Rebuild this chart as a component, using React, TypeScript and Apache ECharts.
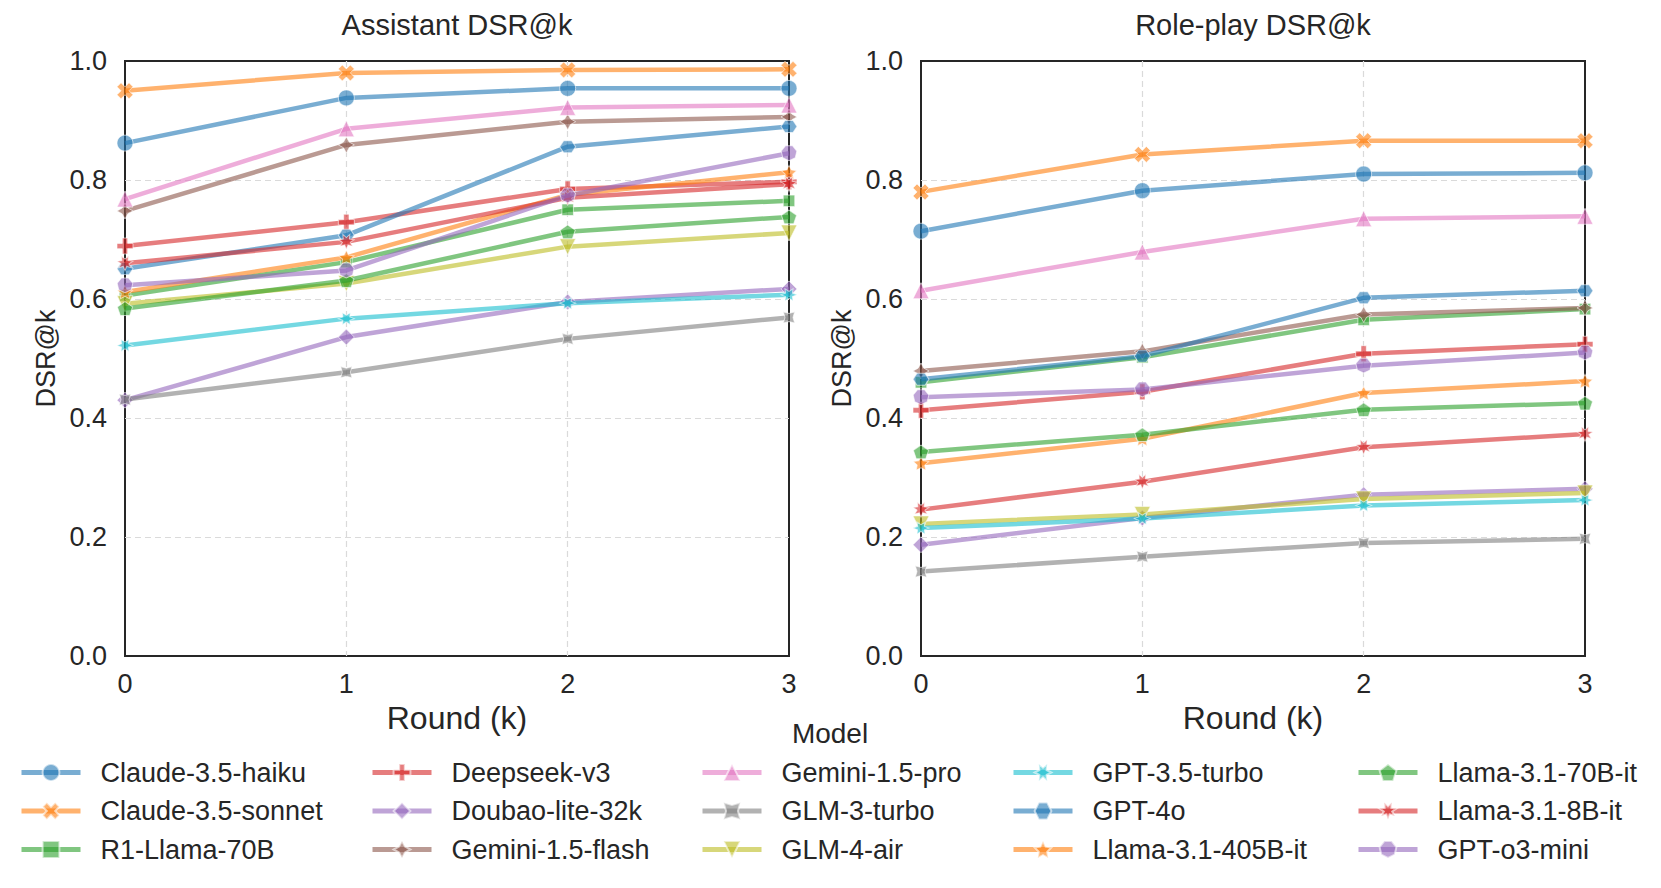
import React, { useEffect, useRef } from "react";
import * as echarts from "echarts";

// ---------- data ----------
const ROUNDS = [0, 1, 2, 3];
const Y_TICKS = [0, 0.2, 0.4, 0.6, 0.8, 1.0];
const PANEL_TITLES = ["Assistant DSR@k", "Role-play DSR@k"];
const X_NAME = "Round (k)";
const Y_NAME = "DSR@k";
const LEGEND_TITLE = "Model";

const MODELS = [
  "Claude-3.5-haiku",
  "Claude-3.5-sonnet",
  "R1-Llama-70B",
  "Deepseek-v3",
  "Doubao-lite-32k",
  "Gemini-1.5-flash",
  "Gemini-1.5-pro",
  "GLM-3-turbo",
  "GLM-4-air",
  "GPT-3.5-turbo",
  "GPT-4o",
  "Llama-3.1-405B-it",
  "Llama-3.1-70B-it",
  "Llama-3.1-8B-it",
  "GPT-o3-mini",
];

// Assistant DSR@k
const A_CLAUDE_HAIKU = [0.862, 0.938, 0.954, 0.954];
const A_CLAUDE_SONNET = [0.95, 0.98, 0.985, 0.986];
const A_R1_LLAMA_70B = [0.606, 0.662, 0.75, 0.765];
const A_DEEPSEEK_V3 = [0.689, 0.729, 0.785, 0.797];
const A_DOUBAO = [0.43, 0.536, 0.595, 0.617];
const A_GEMINI_FLASH = [0.748, 0.859, 0.898, 0.906];
const A_GEMINI_PRO = [0.768, 0.886, 0.922, 0.926];
const A_GLM3 = [0.431, 0.477, 0.533, 0.569];
const A_GLM4_AIR = [0.592, 0.626, 0.688, 0.711];
const A_GPT35 = [0.522, 0.567, 0.593, 0.607];
const A_GPT4O = [0.651, 0.707, 0.856, 0.89];
const A_LLAMA_405B = [0.612, 0.67, 0.775, 0.813];
const A_LLAMA_70B = [0.584, 0.631, 0.713, 0.738];
const A_LLAMA_8B = [0.66, 0.696, 0.77, 0.793];
const A_O3_MINI = [0.623, 0.648, 0.774, 0.845];

// Role-play DSR@k
const R_CLAUDE_HAIKU = [0.714, 0.782, 0.81, 0.812];
const R_CLAUDE_SONNET = [0.78, 0.843, 0.866, 0.866];
const R_R1_LLAMA_70B = [0.46, 0.502, 0.565, 0.583];
const R_DEEPSEEK_V3 = [0.413, 0.444, 0.508, 0.524];
const R_DOUBAO = [0.187, 0.232, 0.271, 0.281];
const R_GEMINI_FLASH = [0.479, 0.512, 0.574, 0.585];
const R_GEMINI_PRO = [0.614, 0.679, 0.735, 0.739];
const R_GLM3 = [0.142, 0.167, 0.19, 0.197];
const R_GLM4_AIR = [0.222, 0.238, 0.264, 0.274];
const R_GPT35 = [0.215, 0.231, 0.253, 0.262];
const R_GPT4O = [0.465, 0.504, 0.602, 0.614];
const R_LLAMA_405B = [0.324, 0.365, 0.442, 0.462];
const R_LLAMA_70B = [0.343, 0.372, 0.414, 0.425];
const R_LLAMA_8B = [0.246, 0.293, 0.351, 0.373];
const R_O3_MINI = [0.435, 0.448, 0.488, 0.51];

const ASSISTANT = [
  A_CLAUDE_HAIKU, A_CLAUDE_SONNET, A_R1_LLAMA_70B, A_DEEPSEEK_V3, A_DOUBAO,
  A_GEMINI_FLASH, A_GEMINI_PRO, A_GLM3, A_GLM4_AIR, A_GPT35, A_GPT4O,
  A_LLAMA_405B, A_LLAMA_70B, A_LLAMA_8B, A_O3_MINI,
];
const ROLEPLAY = [
  R_CLAUDE_HAIKU, R_CLAUDE_SONNET, R_R1_LLAMA_70B, R_DEEPSEEK_V3, R_DOUBAO,
  R_GEMINI_FLASH, R_GEMINI_PRO, R_GLM3, R_GLM4_AIR, R_GPT35, R_GPT4O,
  R_LLAMA_405B, R_LLAMA_70B, R_LLAMA_8B, R_O3_MINI,
];

// ---------- styles ----------
const COLORS = [
  "#1f77b4", "#ff7f0e", "#2ca02c", "#d62728", "#9467bd",
  "#8c564b", "#e377c2", "#7f7f7f", "#bcbd22", "#17becf",
  "#1f77b4", "#ff7f0e", "#2ca02c", "#d62728", "#9467bd",
];
const FONT = "'Liberation Sans', Arial, Helvetica, sans-serif";
const TEXT_COLOR = "#262626";
const MS = 16; // marker base size

function pathFromPts(pts: number[][]): string {
  return (
    "path://" +
    pts
      .map((p, i) => `${i === 0 ? "M" : "L"}${(p[0] * 100 + 50).toFixed(2)} ${(-p[1] * 100 + 50).toFixed(2)}`)
      .join(" ") +
    " Z"
  );
}
function bboxSize(pts: number[][]): number[] {
  const xs = pts.map((p) => p[0]);
  const ys = pts.map((p) => p[1]);
  return [(Math.max(...xs) - Math.min(...xs)) * MS, (Math.max(...ys) - Math.min(...ys)) * MS];
}
function regularPts(n: number, inner: number | null, angleDeg: number): number[][] {
  const total = inner === null ? n : 2 * n;
  const pts: number[][] = [];
  for (let k = 0; k < total; k++) {
    const th = Math.PI / 2 + (angleDeg * Math.PI) / 180 + (k * 2 * Math.PI) / total;
    const r = inner === null ? 0.5 : k % 2 === 0 ? 0.5 : 0.5 * inner;
    pts.push([r * Math.cos(th), r * Math.sin(th)]);
  }
  return pts;
}
function mk(pts: number[][]) {
  return { symbol: pathFromPts(pts), size: bboxSize(pts) };
}
const X_PTS = [[-1, -2], [0, -1], [1, -2], [2, -1], [1, 0], [2, 1], [1, 2], [0, 1], [-1, 2], [-2, 1], [-1, 0], [-2, -1]].map((p) => [p[0] / 4, p[1] / 4]);
const P_PTS = [[-1, -3], [1, -3], [1, -1], [3, -1], [3, 1], [1, 1], [1, 3], [-1, 3], [-1, 1], [-3, 1], [-3, -1], [-1, -1]].map((p) => [p[0] / 6, p[1] / 6]);
const V_PTS = [[0, -0.5], [-0.5, 0.5], [0.5, 0.5]];

const MARKERS: { symbol: string; size: number | number[] }[] = [
  { symbol: "circle", size: MS },
  mk(X_PTS),
  { symbol: "rect", size: MS * 0.72 },
  mk(P_PTS),
  mk(regularPts(4, null, 0)),
  mk(regularPts(4, 0.5, 0)),
  { symbol: "triangle", size: MS },
  mk(regularPts(4, 0.5, 45)),
  mk(V_PTS),
  mk(regularPts(6, 0.5, 30)),
  mk(regularPts(6, null, 30)),
  mk(regularPts(5, 0.5, 0)),
  mk(regularPts(5, null, 0)),
  mk(regularPts(7, 0.5, 360 / 7 / 2)),
  mk(regularPts(7, null, 360 / 7 / 2)),
];

const LEGEND_COLS = [[0, 1, 2], [3, 4, 5], [6, 7, 8], [9, 10, 11], [12, 13, 14]];
const LEGEND_LEFT = [19, 370, 700, 1011, 1356];

const GRID_LEFT = [125, 921];
const GRID_TOP = 61;
const GRID_W = 664;
const GRID_H = 595;

export default function App() {
  const ref = useRef<HTMLDivElement>(null);

  useEffect(() => {
    if (!ref.current) return;
    const chart = echarts.init(ref.current, null, { renderer: "svg" });

    const grids = GRID_LEFT.map((left) => ({
      left,
      top: GRID_TOP,
      width: GRID_W,
      height: GRID_H,
      show: true,
      borderColor: TEXT_COLOR,
      borderWidth: 2,
      backgroundColor: "transparent",
      containLabel: false,
    }));

    const splitLine = {
      show: true,
      showMinLine: false,
      showMaxLine: false,
      lineStyle: { color: "#dadada", width: 1.2, type: [6, 4] },
    };

    const xAxes = GRID_LEFT.map((_, p) => ({
      type: "value",
      gridIndex: p,
      min: ROUNDS[0],
      max: ROUNDS[ROUNDS.length - 1],
      interval: 1,
      axisLine: { show: false },
      axisTick: { show: false },
      axisLabel: { fontSize: 27, color: TEXT_COLOR, fontFamily: FONT, margin: 14 },
      splitLine,
      name: X_NAME,
      nameLocation: "middle",
      nameGap: 45,
      nameTextStyle: { fontSize: 32, color: TEXT_COLOR, fontFamily: FONT },
    }));

    const yAxes = GRID_LEFT.map((_, p) => ({
      type: "value",
      gridIndex: p,
      min: Y_TICKS[0],
      max: Y_TICKS[Y_TICKS.length - 1],
      interval: 0.2,
      axisLine: { show: false },
      axisTick: { show: false },
      axisLabel: {
        fontSize: 27,
        color: TEXT_COLOR,
        fontFamily: FONT,
        margin: 18,
        formatter: (v: number) => v.toFixed(1),
      },
      splitLine,
      name: Y_NAME,
      nameLocation: "middle",
      nameGap: 66,
      nameTextStyle: { fontSize: 27, color: TEXT_COLOR, fontFamily: FONT },
    }));

    const series: any[] = [];
    [ASSISTANT, ROLEPLAY].forEach((panel, p) => {
      panel.forEach((vals, i) => {
        series.push({
          type: "line",
          name: MODELS[i],
          xAxisIndex: p,
          yAxisIndex: p,
          data: ROUNDS.map((r, j) => [r, vals[j]]),
          symbol: MARKERS[i].symbol,
          symbolSize: MARKERS[i].size,
          symbolKeepAspect: true,
          showAllSymbol: true,
          clip: false,
          color: COLORS[i],
          lineStyle: { width: 4.5, color: COLORS[i], opacity: 0.6 },
          itemStyle: { color: COLORS[i], opacity: 0.6, borderColor: "#ffffff", borderWidth: 1 },
          emphasis: { disabled: true },
          z: 2 + i * 0.01,
        });
      });
    });

    const legends = LEGEND_COLS.map((col, c) => ({
      orient: "vertical",
      left: LEGEND_LEFT[c],
      top: 759,
      data: col.map((i) => MODELS[i]),
      itemWidth: 59,
      itemHeight: 21,
      itemGap: 11.5,
      selectedMode: false,
      padding: 0,
      lineStyle: { width: 5 },
      textStyle: {
        fontSize: 27,
        color: TEXT_COLOR,
        fontFamily: FONT,
        padding: [0, 0, 0, 15],
      },
    }));

    const titleTexts = PANEL_TITLES.map((t, p) => ({
      type: "text",
      x: GRID_LEFT[p] + GRID_W / 2,
      y: 25,
      style: {
        text: t,
        fontSize: 29,
        fontFamily: FONT,
        fill: TEXT_COLOR,
        textAlign: "center",
        textVerticalAlign: "middle",
      },
    }));

    chart.setOption({
      animation: false,
      backgroundColor: "#ffffff",
      textStyle: { fontFamily: FONT },
      grid: grids,
      xAxis: xAxes,
      yAxis: yAxes,
      legend: legends,
      series,
      graphic: [
        ...titleTexts,
        {
          type: "text",
          x: 830,
          y: 733,
          style: {
            text: LEGEND_TITLE,
            fontSize: 28,
            fontFamily: FONT,
            fill: TEXT_COLOR,
            textAlign: "center",
            textVerticalAlign: "middle",
          },
        },
      ],
    });

    return () => chart.dispose();
  }, []);

  return (
    <div
      ref={ref}
      style={{ position: "absolute", left: 0, top: 0, width: 1661, height: 888, background: "#fff" }}
    />
  );
}
